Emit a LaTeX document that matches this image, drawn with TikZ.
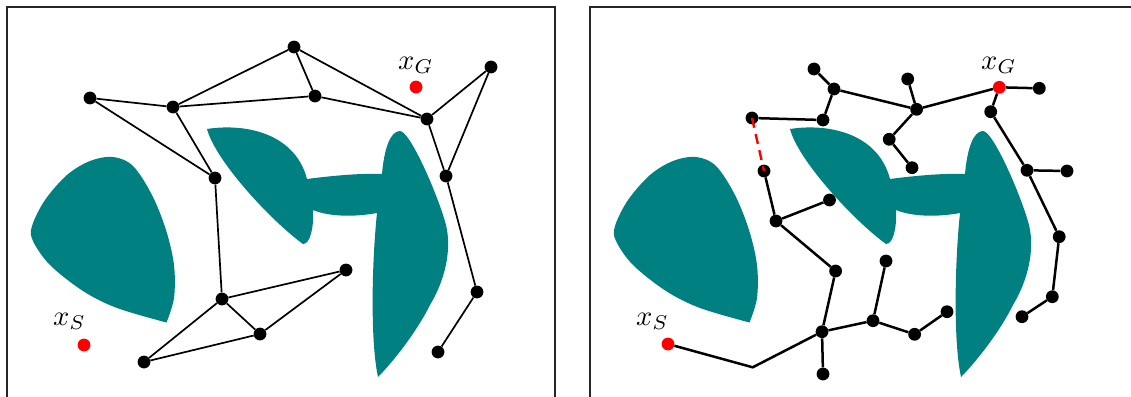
\documentclass[tikz,border=0pt]{standalone}
\definecolor{obst}{RGB}{0,128,128}
\tikzset{
  dot/.style={circle,fill=black,inner sep=0pt,minimum size=12.8pt},
  reddot/.style={circle,fill=red,inner sep=0pt,minimum size=12.8pt},
  edgeL/.style={line width=1.7pt},
  edgeR/.style={line width=2.5pt},
  redlink/.style={line width=2.4pt,draw=red,dash pattern=on 10pt off 6.5pt},
  panelframe/.style={line width=1.2pt,draw=black!85},
  lbl/.style={scale=2.85,transform shape,inner sep=0pt,anchor=base west},
}
\begin{document}
\begin{tikzpicture}[x=1pt,y=-1pt]
\useasboundingbox (0,0) rectangle (1131,396);
\clip (0,0) rectangle (1131,396);
\foreach \dx in {0,583}{
 \begin{scope}[shift={(\dx,0)}]
  \draw[panelframe] (7,420) -- (7,7) -- (555,7) -- (555,420);
  % left obstacle
  \fill[obst] plot[smooth,tension=0.55] coordinates {
    (166.5,322.5) (117,308) (83,291) (50,265) (33,241) (32,226) (45,200)
    (67,175) (90,161) (113,157) (133,166) (152,195) (166,230) (174,265)
    (174,298) (166.5,322.5)} -- cycle;
  % wedge + bar + tall obstacle
  \fill[obst] (207,129) .. controls (245,123) and (295,133) .. (307,179)
    .. controls (330,176) and (360,173) .. (382,174)
    .. controls (384,150) and (390,131) .. (400,131)
    .. controls (410,131) and (438,195) .. (446,225)
    .. controls (452,250) and (445,280) .. (430,305)
    .. controls (415,335) and (390,365) .. (378,377)
    .. controls (370,340) and (372,260) .. (377,213)
    .. controls (355,217) and (330,217) .. (313,210)
    .. controls (314,228) and (310,244) .. (303,244)
    .. controls (270,220) and (215,160) .. (207,129) -- cycle;
 \end{scope}
}
% ---------- left panel ----------
\node[dot] (a1) at (294,47) {};
\node[dot] (a2) at (90,98) {};
\node[dot] (a3) at (173,107) {};
\node[dot] (a4) at (315,96) {};
\node[dot] (a5) at (427,119) {};
\node[dot] (a6) at (491,67) {};
\node[dot] (a7) at (446,176) {};
\node[dot] (a8) at (215,178) {};
\node[dot] (a9) at (346,270) {};
\node[dot] (a10) at (222,299) {};
\node[dot] (a11) at (260,334) {};
\node[dot] (a12) at (144,362) {};
\node[dot] (a13) at (477,292) {};
\node[dot] (a14) at (438,352) {};
\node[reddot] (gL) at (416,87) {};
\node[reddot] (sL) at (84,345) {};
\node[lbl] (gLlab) at (397.5,69.5) {$x_G$};
\node[lbl] (sLlab) at (52.5,325) {$x_S$};
\draw[edgeL] (a2) -- (a3);
\draw[edgeL] (a2) -- (a8);
\draw[edgeL] (a3) -- (a1);
\draw[edgeL] (a3) -- (a4);
\draw[edgeL] (a3) -- (a8);
\draw[edgeL] (a1) -- (a4);
\draw[edgeL] (a1) -- (a5);
\draw[edgeL] (a4) -- (a5);
\draw[edgeL] (a5) -- (a6);
\draw[edgeL] (a5) -- (a7);
\draw[edgeL] (a6) -- (a7);
\draw[edgeL] (a7) -- (a13);
\draw[edgeL] (a13) -- (a14);
\draw[edgeL] (a8) -- (a10);
\draw[edgeL] (a10) -- (a9);
\draw[edgeL] (a10) -- (a11);
\draw[edgeL] (a10) -- (a12);
\draw[edgeL] (a12) -- (a11);
\draw[edgeL] (a11) -- (a9);
% ---------- right panel ----------
\node[dot] (b1) at (814,69) {};
\node[dot] (b2) at (834,89) {};
\node[dot] (b3) at (823,120) {};
\node[dot] (b4) at (752,118) {};
\node[dot] (b5) at (764,171) {};
\node[dot] (b6) at (776,221) {};
\node[dot] (b7) at (829.5,200) {};
\node[dot] (b8) at (835.6,271) {};
\node[dot] (b9) at (822,331.7) {};
\node[dot] (b10) at (823,374) {};
\coordinate (b11) at (752.7,367.3);
\node[dot] (b12) at (873,320.7) {};
\node[dot] (b13) at (886,261) {};
\node[dot] (b14) at (914.6,334.3) {};
\node[dot] (b15) at (947,311.7) {};
\node[dot] (b16) at (907.7,79) {};
\node[dot] (b17) at (916.6,109.3) {};
\node[dot] (b18) at (889.2,139.3) {};
\node[dot] (b19) at (912,167.7) {};
\node[dot] (b20) at (1039.3,88.3) {};
\node[dot] (b21) at (990.7,111.7) {};
\node[dot] (b22) at (1027,170.3) {};
\node[dot] (b23) at (1067,171) {};
\node[dot] (b24) at (1059.2,236.7) {};
\node[dot] (b25) at (1052.3,296.7) {};
\node[dot] (b26) at (1022,316.7) {};
\node[lbl] (gRlab) at (980.5,69.5) {$x_G$};
\node[lbl] (sRlab) at (635.5,325) {$x_S$};
\draw[edgeR] (b1) -- (b2);
\draw[edgeR] (b2) -- (b3);
\draw[edgeR] (b3) -- (b4);
\draw[edgeR] (b2) -- (b17);
\draw[edgeR] (b16) -- (b17);
\draw[edgeR] (b17) -- (b18);
\draw[edgeR] (b18) -- (b19);
\draw[edgeR] (b5) -- (b6);
\draw[edgeR] (b6) -- (b7);
\draw[edgeR] (b6) -- (b8);
\draw[edgeR] (b8) -- (b9);
\draw[edgeR] (b9) -- (b10);
\draw[edgeR] (b9) -- (b12);
\draw[edgeR] (b12) -- (b13);
\draw[edgeR] (b12) -- (b14);
\draw[edgeR] (b14) -- (b15);
\node[reddot] (gR) at (999.3,87.3) {};
\node[reddot] (sR) at (668,344) {};
\draw[edgeR] (b17) -- (gR);
\draw[edgeR] (gR) -- (b20);
\draw[edgeR] (gR) -- (b21);
\draw[edgeR] (b21) -- (b22);
\draw[edgeR] (b22) -- (b23);
\draw[edgeR] (b22) -- (b24);
\draw[edgeR] (b24) -- (b25);
\draw[edgeR] (b25) -- (b26);
\draw[edgeR] (sR) -- (b11) -- (b9);
\draw[redlink] (b4.center) -- (b5.center);
\end{tikzpicture}
\end{document}
